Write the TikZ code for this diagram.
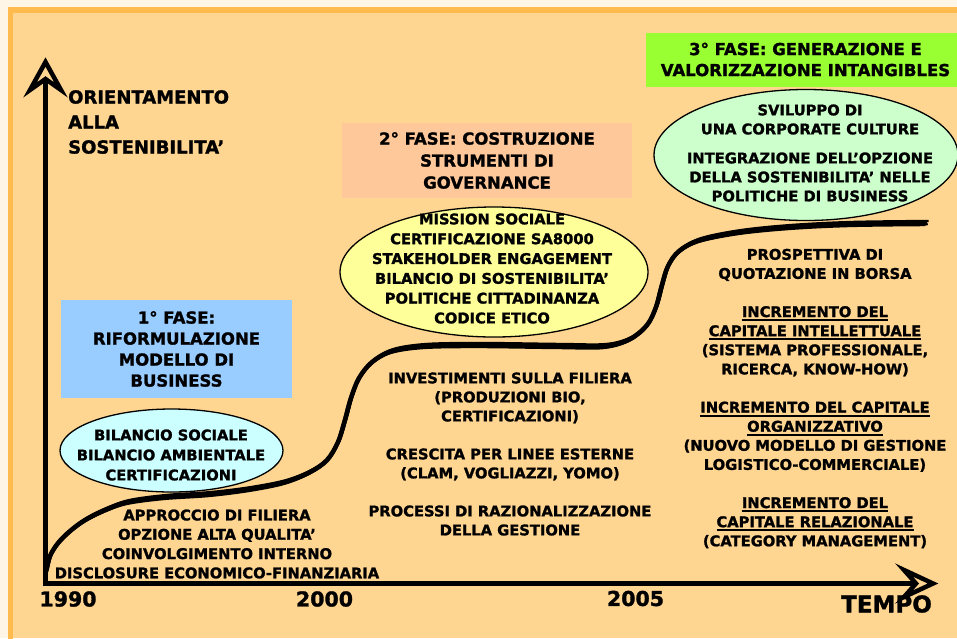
\documentclass[tikz,border=0pt]{standalone}
\usepackage{fontspec}
\setmainfont{DejaVu Sans}[BoldFeatures={FakeBold=1.4}]
\usetikzlibrary{shapes.geometric}

\definecolor{paper}{HTML}{FFF5E6}
\definecolor{frameorange}{HTML}{FFBB4D}
\definecolor{panel}{HTML}{FFD592}
\definecolor{phaseblue}{HTML}{99CCFF}
\definecolor{phasesalmon}{HTML}{FFC89B}
\definecolor{phasegreen}{HTML}{99FF33}
\definecolor{ellcyan}{HTML}{CCFFFF}
\definecolor{ellyellow}{HTML}{FFFF99}
\definecolor{ellgreen}{HTML}{CCFFCC}

% thick underline for the capital headings
\newcommand\undl[1]{\leavevmode\setbox0=\hbox{#1}\rlap{\rule[-4pt]{\wd0}{1.8pt}}\box0}

\begin{document}
\begin{tikzpicture}[x=1pt,y=-1pt,
  txt/.style={font=\bfseries\fontsize{14.7}{19.3}\selectfont, align=center, inner sep=0pt},
  phase/.style={font=\bfseries\fontsize{16.5}{21}\selectfont, align=center, inner sep=0pt},
  bubble/.style={ellipse, draw=black, line width=1.3pt, inner sep=0pt},
  axisline/.style={line width=5pt},
  axishead/.style={draw=black, fill=panel, line width=4.5pt, line join=miter},
  year/.style={font=\bfseries\fontsize{20.5}{24}\selectfont, inner sep=0pt},
]
\useasboundingbox (0,0) rectangle (957,638);

% sheet and framed panel
\fill[paper] (0,0) rectangle (957,638);
\fill[panel] (10.8,10) rectangle (957,638);
\draw[frameorange, line width=5.3pt] (10.8,645) -- (10.8,10) -- (965,10);

% phase boxes
\node[phase, fill=phaseblue, minimum width=231pt, minimum height=98pt] (p1) at (176.5,349)
  {1° FASE:\\ RIFORMULAZIONE\\ MODELLO DI\\ BUSINESS};
\node[phase, fill=phasesalmon, minimum width=290pt, minimum height=75pt, font=\bfseries\fontsize{16.5}{22}\selectfont] (p2) at (487,160.5)
  {2° FASE: COSTRUZIONE\\ STRUMENTI DI\\ GOVERNANCE};
\node[fill=phasegreen, minimum width=320pt, minimum height=54pt, inner sep=0pt] (p3box) at (806,60) {};
\node[phase] (p3) at (805.5,59.5) {3° FASE: GENERAZIONE E\\ VALORIZZAZIONE INTANGIBLES};

% bubbles
\node[bubble, fill=ellcyan, minimum width=223pt, minimum height=83pt] (e1) at (171.5,450.5) {};
\node[bubble, fill=ellyellow, minimum width=308pt, minimum height=130pt] (e2) at (494,272) {};
\node[bubble, fill=ellgreen, minimum width=304pt, minimum height=131pt] (e3) at (806,155) {};

% axes with open arrowheads
\coordinate (o) at (45.5,583.5);
\coordinate (ynotch) at (45.5,79);
\coordinate (ytip) at (45.5,62);
\coordinate (ywl) at (30,90);
\coordinate (ywr) at (61,90);
\coordinate (xnotch) at (916,583.5);
\coordinate (xtip) at (933,583.5);
\coordinate (xwu) at (904,570);
\coordinate (xwd) at (904,597);
\draw[axisline] ([yshift=-2.5pt]o) -- (ynotch);
\draw[axisline] ([xshift=-2.5pt]o) -- (xnotch);
\draw[axishead] (ytip) -- (ywr) -- (ynotch) -- (ywl) -- cycle;
\draw[axishead] (xtip) -- (xwd) -- (xnotch) -- (xwu) -- cycle;

% hand-drawn growth curve, several overlapping strokes
\foreach \dx/\dy/\w in {0/0/4.5, 1.6/-2/2.4, -1.6/2/2.4, 0.8/1.2/1.8}
  \draw[line width=\w pt, line join=round] [shift={(\dx,\dy)}]
    plot[smooth, tension=0.55] coordinates {
      (46,572) (50,556) (58,543) (70,531) (85,520) (105,510) (128,502)
      (165,497) (210,494) (250,489) (285,482) (310,472) (327,460)
      (338,442) (345,420) (351,398) (359,378) (372,362) (392,351)
      (425,346) (480,345) (560,346) (605,346) (630,339) (647,325)
      (656,307) (662,285) (668,266) (679,251) (700,240) (740,232)
      (790,227) (850,224) (927,223)};

% axis labels
\node[font=\bfseries\fontsize{18}{25}\selectfont, align=left, inner sep=0pt, anchor=west] (ylab) at (68,122)
  {ORIENTAMENTO\\ ALLA\\ SOSTENIBILITA’};
\node[year] (y1990) at (68,599) {1990};
\node[year] (y2000) at (324.5,599) {2000};
\node[year] (y2005) at (635.5,598.5) {2005};
\node[font=\bfseries\fontsize{23}{26}\selectfont, inner sep=0pt] (tempo) at (886.5,604) {TEMPO};

% bubble texts
\node[txt, font=\bfseries\fontsize{14.7}{20}\selectfont] (t1) at (171,455)
  {BILANCIO SOCIALE\\ BILANCIO AMBIENTALE\\ CERTIFICAZIONI};
\node[txt, font=\bfseries\fontsize{14.7}{19.8}\selectfont] (t2) at (492,268.5)
  {MISSION SOCIALE\\ CERTIFICAZIONE SA8000\\ STAKEHOLDER ENGAGEMENT\\ BILANCIO DI SOSTENIBILITA’\\ POLITICHE CITTADINANZA\\ CODICE ETICO};
\node[txt, font=\bfseries\fontsize{14.7}{19}\selectfont] (t3) at (810,153)
  {SVILUPPO DI\\ UNA CORPORATE CULTURE\\[10pt] INTEGRAZIONE DELL’OPZIONE\\ DELLA SOSTENIBILITA’ NELLE\\ POLITICHE DI BUSINESS};

% phase actions
\node[txt] (a1) at (217,544)
  {APPROCCIO DI FILIERA\\ OPZIONE ALTA QUALITA’\\ COINVOLGIMENTO INTERNO\\ DISCLOSURE ECONOMICO-FINANZIARIA};
\node[txt, font=\bfseries\fontsize{14.7}{19}\selectfont] (a2) at (510,454)
  {INVESTIMENTI SULLA FILIERA\\ (PRODUZIONI BIO,\\ CERTIFICAZIONI)\\[19pt]
   CRESCITA PER LINEE ESTERNE\\ (CLAM, VOGLIAZZI, YOMO)\\[19pt]
   PROCESSI DI RAZIONALIZZAZIONE\\ DELLA GESTIONE};
\node[txt, font=\bfseries\fontsize{14.7}{19.1}\selectfont] (a3) at (815,398.5)
  {PROSPETTIVA DI\\ QUOTAZIONE IN BORSA\\[19.1pt]
   \undl{INCREMENTO DEL}\\ \undl{CAPITALE INTELLETTUALE}\\ (SISTEMA PROFESSIONALE,\\ RICERCA, KNOW-HOW)\\[19.1pt]
   \undl{INCREMENTO DEL CAPITALE}\\ \undl{ORGANIZZATIVO}\\ (NUOVO MODELLO DI GESTIONE\\ LOGISTICO-COMMERCIALE)\\[19.1pt]
   \undl{INCREMENTO DEL}\\ \undl{CAPITALE RELAZIONALE}\\ (CATEGORY MANAGEMENT)};
\end{tikzpicture}
\end{document}
